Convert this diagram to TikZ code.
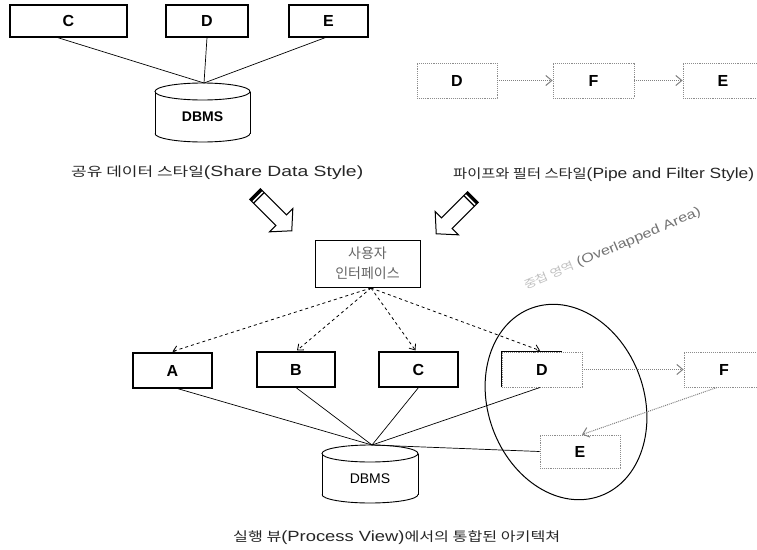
\documentclass[tikz,border=0pt]{standalone}
\usepackage{graphicx}
\usepackage{fontspec}
\setmainfont{Liberation Sans}
\newfontfamily\kr{Noto Sans CJK KR}
\usetikzlibrary{arrows.meta,calc}
\tikzset{
  solidbox/.style={draw=black, line width=1.1pt, fill=white, inner sep=0pt, font=\fontsize{16}{18}\selectfont\bfseries},
  graybox/.style={draw=black!45, densely dotted, line width=0.9pt, fill=white, inner sep=0pt, font=\fontsize{16}{18}\selectfont\bfseries},
  link/.style={draw=black, line width=0.7pt},
  dasharrow/.style={draw=black, line width=0.8pt, dashed, -{Straight Barb[length=5pt,width=8pt]}},
  pipearrow/.style={draw=black!50, line width=1pt, densely dotted, -{Straight Barb[length=6pt,width=10pt]}},
  caption/.style={text=black!85, inner sep=0pt},
}
\newcommand{\kt}[1]{{\kr\fontsize{13}{15}\selectfont #1}}
\newcommand{\capt}[2]{\resizebox{#1}{\height}{\fontsize{14.8}{17}\selectfont #2}}
\newcommand{\mycyl}[5]{% x1 x2 ytop ybot ry
  \fill[white] (#1,#3+#5) rectangle (#2,#4-#5);
  \draw[line width=0.9pt] (#1,#3+#5) -- (#1,#4-#5);
  \draw[line width=0.9pt] (#2,#3+#5) -- (#2,#4-#5);
  \draw[line width=0.9pt] (#1,#4-#5) arc[start angle=180, end angle=360, x radius={(#2-#1)/2*1pt}, y radius=#5pt];
  \draw[line width=0.9pt, fill=white] ({(#1+#2)/2},#3+#5) ellipse [x radius={(#2-#1)/2*1pt}, y radius=#5pt];
}
\newcommand{\hollowarrow}[3]{% x y angle
  \begin{scope}[shift={(#1,#2)}, rotate=#3]
    \draw[line width=1pt, fill=white, line join=miter] (0,-7.5) -- (37,-7.5) -- (37,-16.5) -- (52,0) -- (37,16.5) -- (37,7.5) -- (0,7.5) -- cycle;
    \fill[black] (0,-7.5) rectangle (3,7.5);
    \draw[line width=1.2pt] (5.5,-7.5) -- (5.5,7.5);
  \end{scope}
}
\begin{document}
\begin{tikzpicture}[x=1pt, y=-1pt]
\useasboundingbox (0,0) rectangle (757,549);

% ---------- Share data style ----------
\node[solidbox, minimum width=117pt, minimum height=32pt] (c1) at (68.5,21) {C};
\node[solidbox, minimum width=82pt, minimum height=32pt] (d1) at (207,21) {D};
\node[solidbox, minimum width=79pt, minimum height=32pt] (e1) at (328.5,21) {E};
\mycyl{155}{250}{83}{142}{8.5}
\coordinate (db1) at (204,83);
\node[font=\fontsize{14}{16}\selectfont\bfseries, inner sep=0pt] (db1t) at (202.5,117) {DBMS};
\draw[link] ($(c1.south)+(-11,0)$) -- (db1);
\draw[link] (d1.south) -- (db1);
\draw[link] ($(e1.south)+(-3,0)$) -- (db1);
\node[caption, anchor=west] (cap1) at (71,173) {\capt{292pt}{\kt{공유 데이터 스타일}(Share Data Style)}};

% ---------- Pipe and filter style ----------
\node[graybox, minimum width=80pt, minimum height=35pt] (d2) at (457,80.5) {D};
\node[graybox, minimum width=81pt, minimum height=35pt] (f2) at (593.5,80.5) {F};
\node[graybox, minimum width=80pt, minimum height=35pt] (e2) at (723,80.5) {E};
\draw[pipearrow] (d2.east) -- (f2.west);
\draw[pipearrow] (f2.east) -- (e2.west);
\node[caption, anchor=west] (cap2) at (453,175) {\capt{301pt}{\kt{파이프와 필터 스타일}(Pipe and Filter Style)}};

% ---------- hollow arrows ----------
\hollowarrow{255}{194}{-45}
\hollowarrow{473}{197}{-135}

% ---------- Process view ----------
\node[draw=black, line width=1pt, fill=white, minimum width=105pt, minimum height=47pt, align=center, font=\kr\fontsize{14}{20}\selectfont, text=black!60] (ui) at (367.5,263.5) {사용자\\인터페이스};
\coordinate (uis) at (371,288);

% overlap ellipse
\draw[line width=1pt, rotate around={20:(566,402)}] (566,402) ellipse [x radius=78pt, y radius=100pt];
\node[rotate=23, inner sep=0pt, anchor=south west] (ovl) at (527,292) {\scalebox{1.25}[1]{{\kr\fontsize{11}{13}\selectfont\color{black!25}중첩 영역} {\fontsize{13}{15}\selectfont\color{black!55}(Overlapped Area)}}};

\node[solidbox, minimum width=79pt, minimum height=35pt] (a3) at (172.5,370.5) {A};
\node[solidbox, minimum width=78pt, minimum height=35pt] (b3) at (296,369.5) {B};
\node[solidbox, minimum width=79pt, minimum height=35pt] (c3) at (418.5,369.5) {C};
\node[graybox, minimum width=80pt, minimum height=35pt] (d3) at (542,369.5) {D};
\draw[line width=1.1pt] (d3.south west) -- (d3.north west) -- ($(d3.north west)+(60,0)$);
\node[graybox, minimum width=80pt, minimum height=35pt] (f3) at (724,369.5) {F};
\node[graybox, minimum width=80pt, minimum height=33pt] (e3) at (580,451.5) {E};

\mycyl{322}{418}{445}{503}{8.5}
\coordinate (db2) at (372,445);
\node[font=\fontsize{14}{16}\selectfont, inner sep=0pt] (db2t) at (370,479) {DBMS};

\draw[dasharrow] (uis) -- ($(a3.north)+(0,-1)$);
\draw[dasharrow] (uis) -- ($(b3.north)+(1,-1)$);
\draw[dasharrow] (uis) -- ($(c3.north)+(-3,-1)$);
\draw[dasharrow] (uis) -- ($(d3.north)+(-2,-1)$);

\draw[link] ($(a3.south)+(5,0)$) -- (db2);
\draw[link] (b3.south) -- (db2);
\draw[link] (c3.south) -- (db2);
\draw[link] ($(d3.south)+(-2,0)$) -- (db2);
\draw[link] (db2) -- (e3.west);

\draw[pipearrow] (d3.east) -- (f3.west);
\draw[pipearrow] ($(f3.south)+(-7,0)$) -- ($(e3.north)+(2,0)$);

\node[caption, anchor=west] (cap3) at (233,538) {\capt{327pt}{\kt{실행 뷰}(Process View)\kt{에서의 통합된 아키텍쳐}}};
\end{tikzpicture}
\end{document}
